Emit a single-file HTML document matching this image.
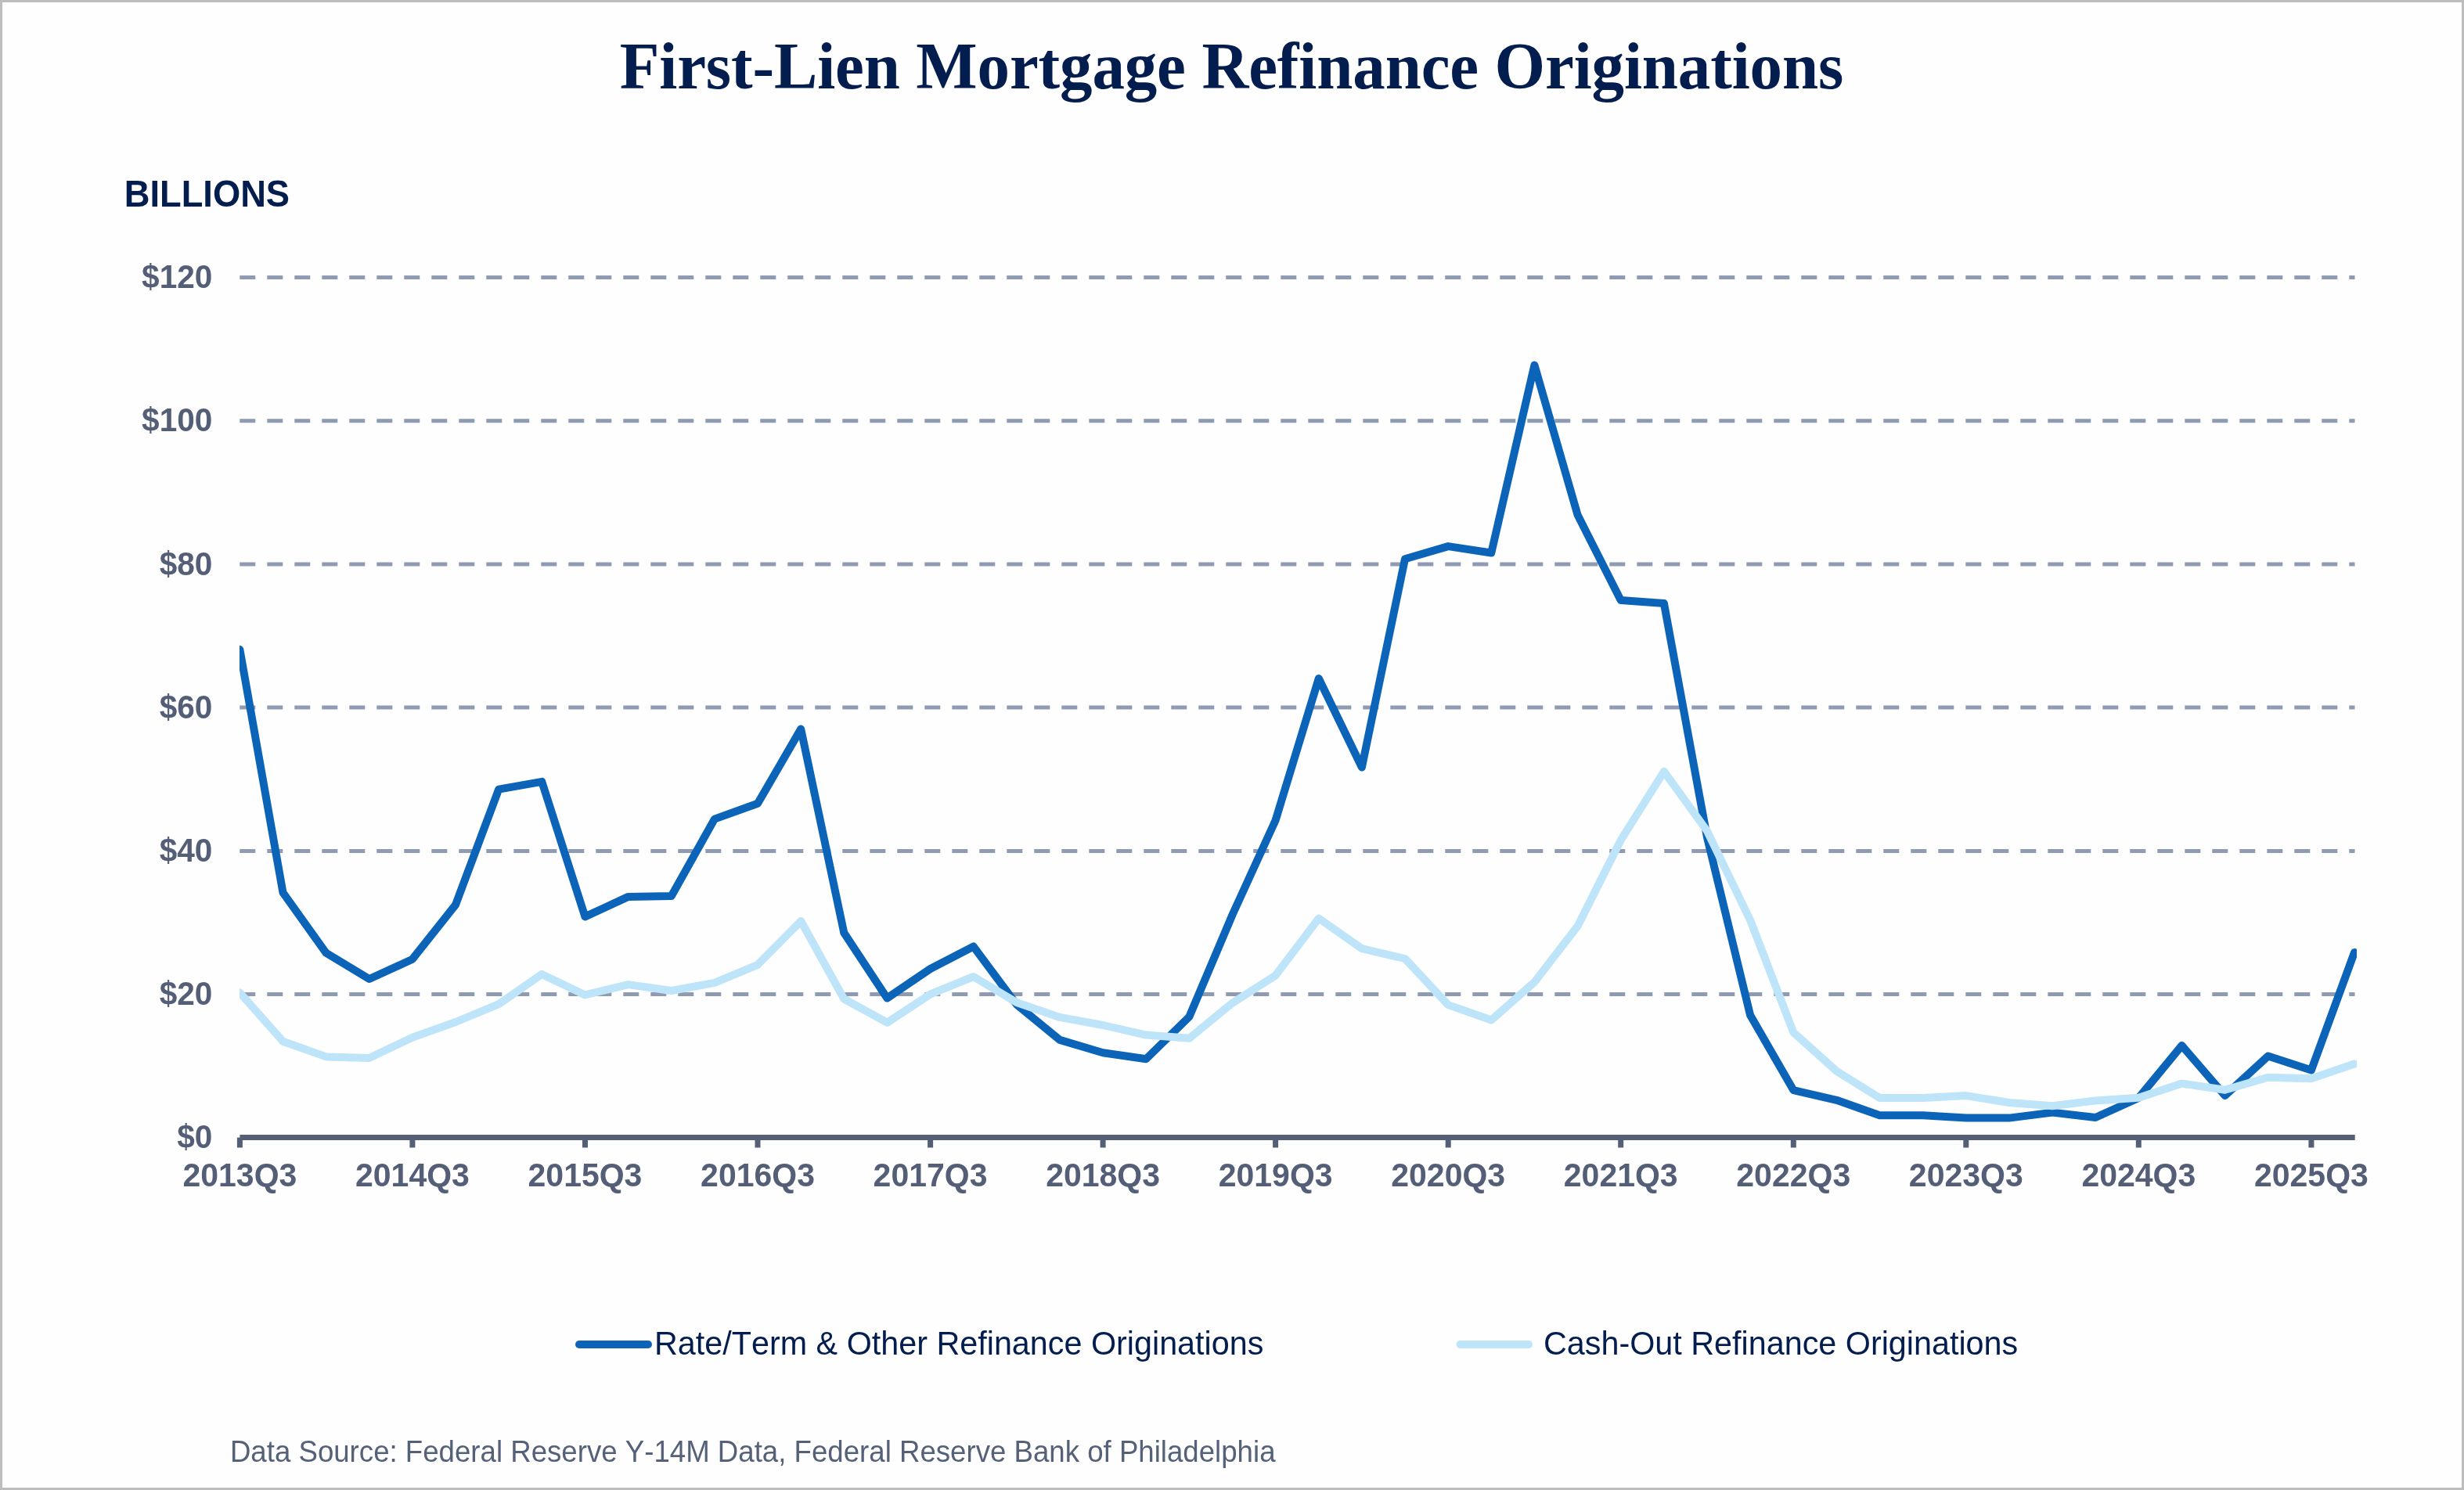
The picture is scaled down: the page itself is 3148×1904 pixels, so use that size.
<!DOCTYPE html>
<html lang="en"><head><meta charset="utf-8"><title>First-Lien Mortgage Refinance Originations</title>
<style>
html,body{margin:0;padding:0;background:#fff;}
body{width:3148px;height:1904px;overflow:hidden;}
svg{display:block;will-change:transform;}
text{font-kerning:none;}
.t{font-family:"Liberation Serif","Times New Roman",serif;font-weight:bold;}
.b{font-family:"Liberation Sans",Arial,sans-serif;font-weight:bold;}
.r{font-family:"Liberation Sans",Arial,sans-serif;font-weight:normal;}
</style></head><body>
<svg width="3148" height="1904" viewBox="0 0 3148 1904">
<rect x="0" y="0" width="3148" height="1904" fill="#fefefe"/>
<rect x="1.5" y="1.5" width="3145" height="1901" fill="none" stroke="#bdbdbd" stroke-width="3"/>
<g class="t" fill="#041d4f" font-size="83" letter-spacing="-0.15" text-anchor="middle" style="font-kerning:auto">
<text transform="translate(1573.40 113.00) scale(1 1.014)" id="title">First-Lien Mortgage Refinance Originations</text>
</g>
<g class="b" fill="#041d4f" font-size="45.3"><text transform="translate(158.70 263.80) scale(1 1.042)" id="bil">BILLIONS</text></g>
<g stroke="#8e9bb2" stroke-width="5" stroke-dasharray="20 15" fill="none">
<line x1="306.3" y1="354.4" x2="3008.5" y2="354.4"/>
<line x1="306.3" y1="537.7" x2="3008.5" y2="537.7"/>
<line x1="306.3" y1="720.9" x2="3008.5" y2="720.9"/>
<line x1="306.3" y1="904.1" x2="3008.5" y2="904.1"/>
<line x1="306.3" y1="1087.4" x2="3008.5" y2="1087.4"/>
<line x1="306.3" y1="1270.6" x2="3008.5" y2="1270.6"/>
</g>
<g class="b" font-size="40.6" fill="#545f77" text-anchor="end">
<text transform="translate(271.40 368.05) scale(1 1.042)" >$120</text>
<text transform="translate(271.40 551.28) scale(1 1.042)" >$100</text>
<text transform="translate(271.40 734.51) scale(1 1.042)" >$80</text>
<text transform="translate(271.40 917.74) scale(1 1.042)" >$60</text>
<text transform="translate(271.40 1100.97) scale(1 1.042)" >$40</text>
<text transform="translate(271.40 1284.20) scale(1 1.042)" >$20</text>
<text transform="translate(271.40 1467.20) scale(1 1.042)" >$0</text>
</g>
<clipPath id="pc"><rect x="305.9" y="300" width="2705" height="1160"/></clipPath>
<g clip-path="url(#pc)" fill="none" stroke-width="10" stroke-linejoin="round" stroke-linecap="round">
<polyline stroke="#0c64b8" points="306.4,830.0 361.5,1140.6 416.7,1217.8 471.8,1251.0 526.9,1225.7 582.1,1156.1 637.2,1008.6 692.3,998.9 747.5,1171.4 802.6,1145.9 857.8,1145.0 912.9,1046.6 968.0,1026.8 1023.2,931.5 1078.3,1192.0 1133.4,1275.5 1188.6,1238.0 1243.7,1209.5 1298.8,1283.6 1354.0,1328.9 1409.1,1345.2 1464.2,1353.3 1519.4,1299.2 1574.5,1169.0 1629.6,1048.2 1684.8,867.0 1739.9,980.5 1795.0,714.2 1850.2,698.1 1905.3,706.5 1960.4,466.5 2015.6,658.1 2070.7,767.0 2125.9,771.0 2181.0,1070.0 2236.1,1297.3 2291.3,1393.1 2346.4,1405.8 2401.5,1425.2 2456.7,1425.2 2511.8,1428.6 2566.9,1428.6 2622.1,1421.6 2677.2,1428.0 2732.3,1403.0 2787.5,1336.0 2842.6,1400.0 2897.7,1349.5 2952.9,1367.5 3008.0,1217.0"/>
<polyline stroke="#bde4f8" points="306.4,1268.5 361.5,1330.8 416.7,1350.4 471.8,1352.0 526.9,1325.7 582.1,1306.0 637.2,1283.1 692.3,1244.9 747.5,1271.4 802.6,1258.1 857.8,1266.0 912.9,1255.8 968.0,1232.8 1023.2,1177.0 1078.3,1276.5 1133.4,1306.7 1188.6,1270.5 1243.7,1248.0 1298.8,1281.0 1354.0,1299.9 1409.1,1310.0 1464.2,1322.6 1519.4,1326.8 1574.5,1281.7 1629.6,1246.5 1684.8,1173.5 1739.9,1212.2 1795.0,1225.0 1850.2,1284.1 1905.3,1303.5 1960.4,1255.0 2015.6,1183.4 2070.7,1073.7 2125.9,985.8 2181.0,1061.9 2236.1,1175.9 2291.3,1319.2 2346.4,1368.8 2401.5,1403.0 2456.7,1403.0 2511.8,1400.1 2566.9,1409.0 2622.1,1413.2 2677.2,1406.4 2732.3,1402.8 2787.5,1384.6 2842.6,1392.8 2897.7,1376.7 2952.9,1378.2 3008.0,1359.6"/>
</g>
<g stroke="#545f76" stroke-width="7" fill="none">
<line x1="306.4" y1="1453.6" x2="3008.7" y2="1453.6"/>
<line x1="306.4" y1="1453.6" x2="306.4" y2="1466.5"/>
<line x1="526.9" y1="1453.6" x2="526.9" y2="1466.5"/>
<line x1="747.5" y1="1453.6" x2="747.5" y2="1466.5"/>
<line x1="968.0" y1="1453.6" x2="968.0" y2="1466.5"/>
<line x1="1188.6" y1="1453.6" x2="1188.6" y2="1466.5"/>
<line x1="1409.1" y1="1453.6" x2="1409.1" y2="1466.5"/>
<line x1="1629.6" y1="1453.6" x2="1629.6" y2="1466.5"/>
<line x1="1850.2" y1="1453.6" x2="1850.2" y2="1466.5"/>
<line x1="2070.7" y1="1453.6" x2="2070.7" y2="1466.5"/>
<line x1="2291.3" y1="1453.6" x2="2291.3" y2="1466.5"/>
<line x1="2511.8" y1="1453.6" x2="2511.8" y2="1466.5"/>
<line x1="2732.3" y1="1453.6" x2="2732.3" y2="1466.5"/>
<line x1="2952.9" y1="1453.6" x2="2952.9" y2="1466.5"/>
</g>
<g class="b" font-size="41" fill="#545f77" text-anchor="middle">
<text transform="translate(306.40 1515.80) scale(1 1.042)" >2013Q3</text>
<text transform="translate(526.94 1515.80) scale(1 1.042)" >2014Q3</text>
<text transform="translate(747.48 1515.80) scale(1 1.042)" >2015Q3</text>
<text transform="translate(968.02 1515.80) scale(1 1.042)" >2016Q3</text>
<text transform="translate(1188.56 1515.80) scale(1 1.042)" >2017Q3</text>
<text transform="translate(1409.10 1515.80) scale(1 1.042)" >2018Q3</text>
<text transform="translate(1629.64 1515.80) scale(1 1.042)" >2019Q3</text>
<text transform="translate(1850.18 1515.80) scale(1 1.042)" >2020Q3</text>
<text transform="translate(2070.72 1515.80) scale(1 1.042)" >2021Q3</text>
<text transform="translate(2291.26 1515.80) scale(1 1.042)" >2022Q3</text>
<text transform="translate(2511.80 1515.80) scale(1 1.042)" >2023Q3</text>
<text transform="translate(2732.34 1515.80) scale(1 1.042)" >2024Q3</text>
<text transform="translate(2952.88 1515.80) scale(1 1.042)" >2025Q3</text>
</g>
<g fill="none" stroke-width="10" stroke-linecap="round">
<line stroke="#0c64b8" x1="740" y1="1718" x2="828" y2="1718"/>
<line stroke="#bde4f8" x1="1865.5" y1="1718" x2="1953" y2="1718"/>
</g>
<g class="r" font-size="41.33" fill="#041d4f">
<text transform="translate(836.00 1731.30) scale(1 1.042)" id="lg1">Rate/Term &amp; Other Refinance Originations</text>
<text transform="translate(1972.00 1731.30) scale(1 1.042)" id="lg2">Cash-Out Refinance Originations</text>
</g>
<g class="r" font-size="36.65" fill="#556079">
<text transform="translate(293.90 1868.20) scale(1 1.042)" id="foot">Data Source: Federal Reserve Y-14M Data, Federal Reserve Bank of Philadelphia</text>
</g>
</svg>
</body></html>
